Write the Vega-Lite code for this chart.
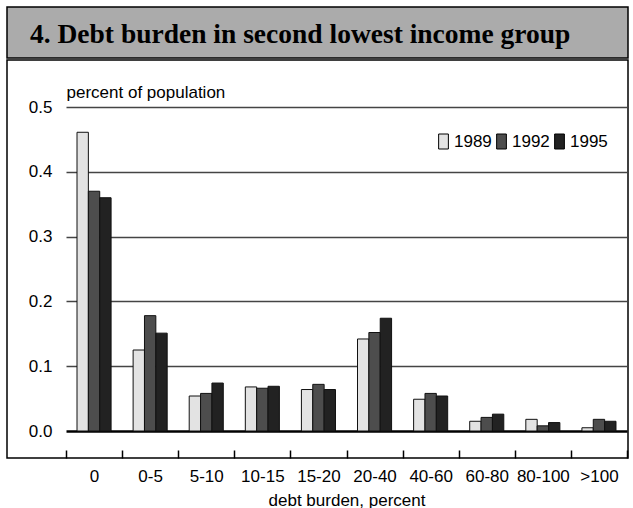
{
  "$schema": "https://vega.github.io/schema/vega-lite/v6.json",
  "padding": {"left": 6, "top": 6, "right": 0, "bottom": 0},
  "spacing": 0,
  "config": {"view": {"stroke": "#000", "strokeWidth": 1.5}, "font": "Liberation Sans"},
  "vconcat": [
    {
      "width": 621,
      "height": 51,
      "view": {"fill": "#ababab", "stroke": "#000", "strokeWidth": 1.5},
      "data": {"values": [{"t": "4. Debt burden in second lowest income group"}]},
      "mark": {"type": "text", "align": "left", "baseline": "alphabetic", "dx": 23, "dy": -15, "font": "Liberation Serif", "fontSize": 27.5, "fontWeight": "bold", "color": "#000"},
      "encoding": {
        "text": {"field": "t"},
        "x": {"datum": 0, "type": "quantitative", "scale": {"domain": [0, 1]}, "axis": null},
        "y": {"datum": 0, "type": "quantitative", "scale": {"domain": [0, 1]}, "axis": null}
      }
    },
    {
      "width": 621,
      "height": 398,
      "data": {"values": [
        {"burden": "0", "year": "1989", "share": 0.461},
        {"burden": "0", "year": "1992", "share": 0.370},
        {"burden": "0", "year": "1995", "share": 0.360},
        {"burden": "0-5", "year": "1989", "share": 0.125},
        {"burden": "0-5", "year": "1992", "share": 0.178},
        {"burden": "0-5", "year": "1995", "share": 0.151},
        {"burden": "5-10", "year": "1989", "share": 0.054},
        {"burden": "5-10", "year": "1992", "share": 0.058},
        {"burden": "5-10", "year": "1995", "share": 0.074},
        {"burden": "10-15", "year": "1989", "share": 0.068},
        {"burden": "10-15", "year": "1992", "share": 0.066},
        {"burden": "10-15", "year": "1995", "share": 0.069},
        {"burden": "15-20", "year": "1989", "share": 0.064},
        {"burden": "15-20", "year": "1992", "share": 0.072},
        {"burden": "15-20", "year": "1995", "share": 0.064},
        {"burden": "20-40", "year": "1989", "share": 0.142},
        {"burden": "20-40", "year": "1992", "share": 0.152},
        {"burden": "20-40", "year": "1995", "share": 0.174},
        {"burden": "40-60", "year": "1989", "share": 0.049},
        {"burden": "40-60", "year": "1992", "share": 0.058},
        {"burden": "40-60", "year": "1995", "share": 0.054},
        {"burden": "60-80", "year": "1989", "share": 0.015},
        {"burden": "60-80", "year": "1992", "share": 0.021},
        {"burden": "60-80", "year": "1995", "share": 0.026},
        {"burden": "80-100", "year": "1989", "share": 0.018},
        {"burden": "80-100", "year": "1992", "share": 0.008},
        {"burden": "80-100", "year": "1995", "share": 0.013},
        {"burden": ">100", "year": "1989", "share": 0.005},
        {"burden": ">100", "year": "1992", "share": 0.018},
        {"burden": ">100", "year": "1995", "share": 0.015}
      ]},
      "mark": {"type": "bar", "stroke": "#111", "strokeWidth": 1},
      "encoding": {
        "x": {
          "field": "burden", "type": "nominal",
          "sort": ["0", "0-5", "5-10", "10-15", "15-20", "20-40", "40-60", "60-80", "80-100", ">100"],
          "scale": {"range": [59, 620], "paddingInner": 0, "paddingOuter": 0},
          "axis": {"title": "debt burden, percent", "labelAngle": 0, "domain": false, "tickBand": "extent", "tickSize": -8, "tickColor": "#000", "tickWidth": 1.5, "labelPadding": 18, "labelFontSize": 17, "labelColor": "#000", "titleFontSize": 17, "titleFontWeight": "normal", "titlePadding": 8, "titleColor": "#000", "titleFont": "Liberation Sans", "labelFont": "Liberation Sans"}
        },
        "xOffset": {"field": "year", "type": "nominal", "scale": {"paddingInner": 0, "paddingOuter": 0.97}},
        "y": {
          "field": "share", "type": "quantitative", "stack": null,
          "scale": {"domain": [0, 0.5], "range": [371, 47], "nice": false, "zero": false},
          "axis": {"title": "percent of population", "orient": "left", "values": [0, 0.1, 0.2, 0.3, 0.4, 0.5], "format": ".1f", "domain": false, "ticks": false, "offset": -45, "labelPadding": 0, "labelFontSize": 17, "labelColor": "#000", "labelFont": "Liberation Sans",
            "gridColor": {"condition": {"test": "datum.value === 0", "value": "#000"}, "value": "#444"},
            "gridWidth": {"condition": {"test": "datum.value === 0", "value": 2.5}, "value": 1.5},
            "titleAngle": 0, "titleAlign": "left", "titleBaseline": "alphabetic", "titleX": 14, "titleY": 37, "titleFontSize": 17, "titleFontWeight": "normal", "titleColor": "#000", "titleFont": "Liberation Sans"}
        },
        "y2": {"datum": 0},
        "color": {
          "field": "year", "type": "nominal",
          "scale": {"domain": ["1989", "1992", "1995"], "range": ["#e3e3e3", "#4d4d4d", "#222222"]},
          "legend": {"orient": "none", "legendX": 428, "legendY": 126, "direction": "horizontal", "title": null, "symbolType": "M-0.65,-1H0.65V1H-0.65Z", "symbolSize": 225, "symbolStrokeColor": "#000", "symbolStrokeWidth": 1, "symbolOpacity": 1, "labelFontSize": 17, "labelFont": "Liberation Sans", "labelColor": "#000", "columnPadding": 1, "labelOffset": 2}
        }
      }
    }
  ]
}
